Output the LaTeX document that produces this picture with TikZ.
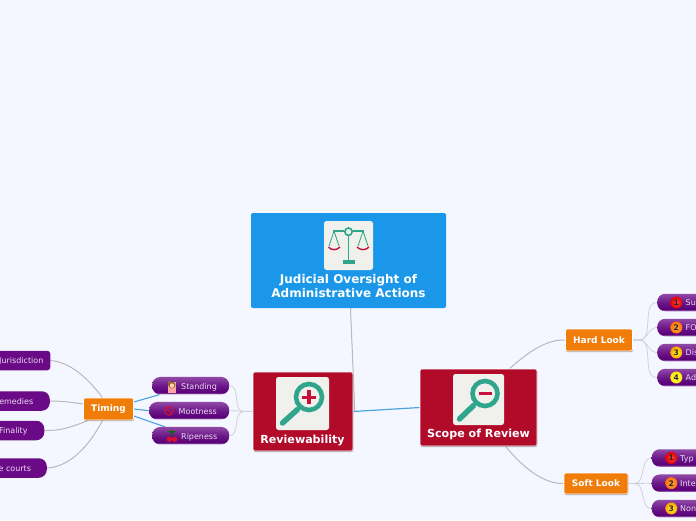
\documentclass[tikz,border=0pt]{standalone}
\usepackage{fontspec}
\setmainfont{DejaVu Sans}
\usetikzlibrary{shadows,calc}
\definecolor{bgc}{HTML}{F4F7FF}
\definecolor{rootcol}{HTML}{1A97E8}
\definecolor{redc}{HTML}{B20B2A}
\definecolor{orc}{HTML}{F07C0A}
\definecolor{tealc}{HTML}{2FA58C}
\definecolor{crim}{HTML}{C8103C}
\definecolor{tilec}{HTML}{F0F0EC}
\definecolor{linkg}{HTML}{B9B9B9}
\definecolor{linkl}{HTML}{D0D1D4}
\definecolor{linkb}{HTML}{4FA3E0}
\definecolor{pilltop}{HTML}{8F48A6}
\definecolor{pillmid}{HTML}{6C1788}
\definecolor{pilldark}{HTML}{5A0078}
\definecolor{pillrim}{HTML}{A877BC}
\definecolor{flatp}{HTML}{6A0A86}
\definecolor{pilltext}{HTML}{EADCF2}
\definecolor{cherry}{HTML}{D81030}
\pgfdeclareverticalshading{pillshade}{100bp}{color(0bp)=(pillrim);color(26bp)=(pillrim);color(31bp)=(pilldark);color(50bp)=(pillmid);color(74bp)=(pilltop);color(100bp)=(pilltop)}
\pgfdeclarelayer{bgl}
\pgfdeclarelayer{links}
\pgfsetlayers{bgl,links,main}
\tikzset{
  x=1pt,y=-1pt,
  rootbox/.style={fill=rootcol,rounded corners=2pt,inner sep=0pt,minimum width=195pt,minimum height=95pt},
  mainbox/.style={fill=redc,draw=white,line width=.6pt,rounded corners=2pt,inner sep=0pt,drop shadow={shadow xshift=.4pt,shadow yshift=-1pt,opacity=.35,fill=black}},
  subbox/.style={fill=orc,draw=white,line width=.6pt,rounded corners=2pt,inner sep=0pt,text=white,font=\fontsize{9}{10}\selectfont\bfseries,drop shadow={shadow xshift=.4pt,shadow yshift=-1pt,opacity=.35,fill=black}},
  titletext/.style={text=white,font=\fontsize{11.1}{14}\selectfont\bfseries,align=center,inner sep=0pt},
  tile/.style={fill=tilec,rounded corners=2.5pt,inner sep=0pt},
  pill/.style={shade,shading=pillshade,rounded corners=8pt,anchor=west,inner ysep=0pt,inner xsep=0pt,minimum height=17.5pt,text=pilltext,font=\fontsize{8}{9}\selectfont,align=left,text height=8.6pt,text depth=2pt},
  flatpill/.style={fill=flatp,anchor=east,inner sep=0pt,minimum height=19.5pt,text=pilltext,font=\fontsize{8}{9}\selectfont,align=center,text height=8.6pt,text depth=2pt},
  linkgray/.style={draw=linkg,line width=1pt},
  linklight/.style={draw=linkl,line width=.8pt},
  linkblue/.style={draw=linkb,line width=1.1pt},
  badge/.style={circle,inner sep=0pt,minimum size=12pt,text=black!85,font=\fontsize{7.6}{8}\selectfont\bfseries},
  lens/.style={draw=tealc,line width=4.6pt},
  handle/.style={draw=tealc,line width=5.5pt,line cap=round},
  signmark/.style={draw=crim,line width=3.6pt},
  thinteal/.style={draw=tealc,line width=.8pt},
}
\begin{document}
\begin{tikzpicture}
\useasboundingbox (0,0) rectangle (696,520);
\clip (0,0) rectangle (696,520);
\begin{pgfonlayer}{bgl}
\fill[bgc] (0,0) rectangle (696,520);
\end{pgfonlayer}

% boxes
\node[rootbox] (root) at (348.5,260.5) {};
\node[titletext,font=\fontsize{12}{14}\selectfont\bfseries] (rootlab) at (348.5,286.5) {Judicial Oversight of\\Administrative Actions};
\node[mainbox,minimum width=100pt,minimum height=79pt] (rev) at (303,411.5) {};
\node[titletext] (revlab) at (302.5,440) {Reviewability};
\node[mainbox,minimum width=117pt,minimum height=77pt] (scope) at (478.5,407.5) {};
\node[titletext] (scopelab) at (478.5,434.7) {Scope of Review};
\node[subbox,minimum width=50pt,minimum height=22pt] (timing) at (108.5,409) {Timing};
\node[subbox,minimum width=67pt,minimum height=22pt] (hard) at (599,340) {Hard Look};
\node[subbox,minimum width=64pt,minimum height=21pt] (soft) at (596,483.5) {Soft Look};

% tiles and icons
\node[tile,minimum width=49pt,minimum height=49pt] (ti1) at (348.5,245.5) {};
\draw[thinteal,line width=1.3pt] (333,231) -- (344,231) (353,231) -- (364,231);
\draw[thinteal,line width=1.6pt] (348.5,231.7) circle (3.7);
\draw[thinteal,line width=1.6pt] (348.5,235.5) -- (348.5,260);
\fill[tealc] (342.5,260) rectangle (354.5,264);
\draw[thinteal] (334,231) -- (329,246) (334,231) -- (339,246);
\draw[thinteal] (363,231) -- (358,246) (363,231) -- (368,246);
\draw[crim,line width=1.4pt] (328.5,247) .. controls (331,250.5) and (337,250.5) .. (340,247);
\draw[crim,line width=1.4pt] (357,247) .. controls (360,250.5) and (366,250.5) .. (369,247);

\node[tile,minimum width=53pt,minimum height=53pt] (ti2) at (302.5,403.5) {};
\draw[lens] (309,397) circle (13);
\draw[handle] (297.5,409.5) -- (282.5,423);
\draw[signmark] (302,397.3) -- (316,397.3) (309,390.3) -- (309,404.3);

\node[tile,minimum width=51pt,minimum height=51pt] (ti3) at (478.5,399.5) {};
\draw[lens] (485,393.5) circle (12.5);
\draw[handle] (473.5,405.5) -- (459.5,419);
\draw[signmark,line width=3.2pt] (478.5,393.5) -- (491.5,393.5);

% pills
\node[pill,minimum width=77pt,text width=77pt] (standing) at (152,385.7) {\hspace*{29pt}Standing};
\node[pill,minimum width=80pt,text width=80pt] (mootness) at (149,410.7) {\hspace*{29.5pt}Mootness};
\node[pill,minimum width=77pt,text width=77pt] (ripeness) at (152,435.7) {\hspace*{29pt}Ripeness};

% small pictures on the pills
\fill[pink!85!red] (167.5,382) rectangle (176,393);
\fill[brown!80!black] (172,385) circle (3.4);
\fill[orange!30!white] (172,385.6) circle (2.2);
\fill[brown!80!black] (168,380.5) rectangle (169.8,386);
\draw[crim,line width=1.2pt] (169,411) circle (4.2);
\draw[crim,line width=1.2pt] (166,408) -- (172,414);
\draw[green!40!black,line width=.6pt] (169.5,437) -- (172,432) -- (174.5,437);
\fill[green!45!black] (167.5,431.5) -- (172,430.5) -- (176,431.5) -- (172,433) -- cycle;
\fill[cherry] (169.5,439.3) circle (2.7);
\fill[cherry] (174.7,439.3) circle (2.7);

\node[flatpill,minimum width=58pt,rounded corners=3pt] (juris) at (50.5,360.5) {Jurisdiction};
\node[flatpill,minimum width=67pt,rounded corners=8pt] (remed) at (50,401) {emedies};
\node[flatpill,minimum width=62pt,rounded corners=8pt] (final) at (44.5,430.5) {Finality};
\node[flatpill,minimum width=64pt,rounded corners=8pt] (courts) at (47,468) {e courts};

\foreach \n/\yy/\t in {hA/302.5/Su,hB/327.5/FO,hC/352.5/Dis,hD/377.5/Ad}{
  \node[pill,minimum width=90pt,text width=90pt] (\n) at (657,\yy) {\hspace*{28.5pt}\t};
}
\foreach \n/\yy/\t in {sA/458/Typ,sB/483.2/Inte,sC/508.5/Non}{
  \node[pill,minimum width=90pt,text width=90pt] (\n) at (651.5,\yy) {\hspace*{28.5pt}\t};
}
\foreach \n/\xx/\yy/\ci/\co/\t in {b1/676.3/302.5/red!75!white/red!90!black/1,b2/676.3/327.5/orange!70!white/orange!90!red/2,b3/676.3/352.5/yellow!80!white/orange!75!yellow/3,b4/676.3/377.5/yellow!60!white/yellow!80!orange/4,b5/671.3/458/red!75!white/red!90!black/1,b6/671.3/483.2/orange!70!white/orange!90!red/2,b7/671.3/508.5/yellow!80!white/orange!75!yellow/3}{
  \node[badge,inner color=\ci,outer color=\co] (\n) at (\xx,\yy) {\t};
}

% connectors
\begin{pgfonlayer}{links}
\draw[linkgray] ([xshift=2pt]root.south) -- ([xshift=1.5pt]rev.east);
\draw[draw=linkb,line width=1.2pt] (rev.east) -- (scope.west);
\draw[linkgray] ([xshift=31pt]scope.north) .. controls (525,355) and (545,339) .. (hard.west);
\draw[linkgray] ([xshift=27pt]scope.south) .. controls (525,470) and (545,484) .. (soft.west);

\draw[linklight] (rev.west) -- +(-9,0) to[out=180,in=0] (standing.east);
\draw[linklight] (rev.west) -- (mootness.east);
\draw[linklight] (rev.west) -- +(-9,0) to[out=180,in=0] (ripeness.east);

\draw[linkblue] ([yshift=7pt]timing.east) -- (standing);
\draw[linkblue] (timing.east) -- (mootness.west);
\draw[linkblue] ([yshift=-7pt]timing.east) -- (ripeness);

\draw[linkgray] ([xshift=-6pt]timing.north) .. controls (88,378) and (70,362) .. (juris.east);
\draw[linkgray] ([yshift=5pt]timing.west) .. controls (70,402) and (60,401) .. (remed.east);
\draw[linkgray] ([xshift=-20pt]timing.south) .. controls (72,427) and (60,431) .. (final.east);
\draw[linkgray] ([xshift=-6pt]timing.south) .. controls (90,445) and (70,467) .. (courts.east);

\foreach \t in {hA,hB,hC,hD}{
  \draw[linklight] (hard.east) -- +(6,0) to[out=0,in=180] (\t.west);
}
\foreach \t in {sA,sB,sC}{
  \draw[linklight] (soft.east) -- +(6,0) to[out=0,in=180] (\t.west);
}
\end{pgfonlayer}
\end{tikzpicture}
\end{document}
